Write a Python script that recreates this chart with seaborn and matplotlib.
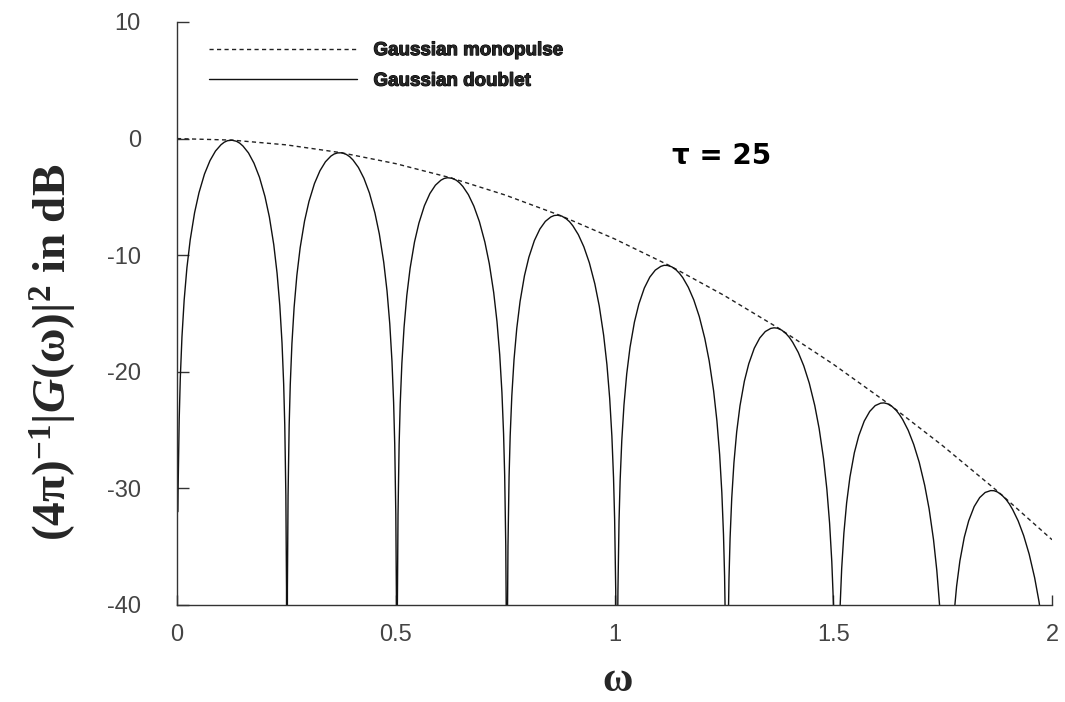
import matplotlib
matplotlib.use("Agg")
import matplotlib.pyplot as plt
import matplotlib.patheffects as pe
import seaborn as sns

# ---- data ----
# Gaussian monopulse (dashed envelope), dB
omega_mono = [0.0, 0.125, 0.25, 0.375, 0.5, 0.625, 0.75, 0.875, 1.0,
              1.125, 1.25, 1.375, 1.5, 1.625, 1.75, 1.875, 2.0]
db_mono = [0.0, -0.13, -0.54, -1.21, -2.15, -3.36, -4.84, -6.58, -8.6,
           -10.88, -13.44, -16.26, -19.35, -22.71, -26.34, -30.23, -34.4]

# Gaussian doublet: one list per lobe (arch), dB
omega_arch1 = [0.00201, 0.00251, 0.00503, 0.00754, 0.01131, 0.01634, 0.02262, 0.03016, 0.04021,
               0.05027, 0.06283, 0.07540, 0.08796, 0.10053, 0.10807, 0.11561, 0.12566, 0.13572,
               0.14326, 0.15080, 0.16336, 0.17593, 0.18850, 0.20106, 0.21111, 0.22117, 0.22871,
               0.23499, 0.24002, 0.24379, 0.24630, 0.24881, 0.25032]
db_arch1 = [-32.0, -30.06, -24.04, -20.53, -17.02, -13.86, -11.09, -8.69, -6.35,
            -4.64, -3.04, -1.89, -1.07, -0.53, -0.31, -0.18, -0.14, -0.23,
            -0.39, -0.64, -1.23, -2.11, -3.32, -4.97, -6.72, -9.10, -11.54,
            -14.33, -17.52, -21.04, -24.56, -30.59, -38.55]

omega_arch2 = [0.25234, 0.25384, 0.25636, 0.25887, 0.26264, 0.26767, 0.27395, 0.28149, 0.29154,
               0.30160, 0.31416, 0.32673, 0.33929, 0.35186, 0.35940, 0.36694, 0.37699, 0.38705,
               0.39459, 0.40213, 0.41469, 0.42726, 0.43983, 0.45239, 0.46244, 0.47250, 0.48004,
               0.48632, 0.49135, 0.49512, 0.49763, 0.50014, 0.50165]
db_arch2 = [-38.56, -30.61, -24.61, -21.11, -17.61, -14.48, -11.74, -9.36, -7.07,
            -5.40, -3.86, -2.76, -1.99, -1.50, -1.32, -1.23, -1.22, -1.36,
            -1.55, -1.83, -2.48, -3.41, -4.67, -6.38, -8.18, -10.60, -13.07,
            -15.89, -19.10, -22.64, -26.17, -32.21, -40.17]

omega_arch3 = [0.50366, 0.50516, 0.50768, 0.51019, 0.51396, 0.51899, 0.52527, 0.53281, 0.54286,
               0.55292, 0.56548, 0.57805, 0.59061, 0.60318, 0.61072, 0.61826, 0.62831, 0.63837,
               0.64591, 0.65345, 0.66601, 0.67858, 0.69115, 0.70371, 0.71376, 0.72382, 0.73136,
               0.73764, 0.74267, 0.74644, 0.74895, 0.75146, 0.75297]
db_arch3 = [-40.19, -32.25, -26.26, -22.77, -19.29, -16.18, -13.46, -11.12, -8.87,
            -7.25, -5.76, -4.71, -4.00, -3.57, -3.42, -3.36, -3.40, -3.57,
            -3.80, -4.11, -4.81, -5.80, -7.12, -8.88, -10.72, -13.19, -15.69,
            -18.54, -21.76, -25.32, -28.86, -34.92, -42.89]

omega_arch4 = [0.75499, 0.75649, 0.75901, 0.76152, 0.76529, 0.77032, 0.77660, 0.78414, 0.79419,
               0.80425, 0.81681, 0.82938, 0.84194, 0.85451, 0.86205, 0.86959, 0.87964, 0.88970,
               0.89724, 0.90478, 0.91734, 0.92991, 0.94248, 0.95504, 0.96509, 0.97515, 0.98269,
               0.98897, 0.99400, 0.99777, 1.00028, 1.00279, 1.00430]
db_arch4 = [-42.91, -34.98, -28.99, -25.52, -22.06, -18.96, -16.28, -13.97, -11.76,
            -10.18, -8.75, -7.76, -7.10, -6.72, -6.60, -6.57, -6.65, -6.88,
            -7.13, -7.48, -8.24, -9.28, -10.65, -12.46, -14.35, -16.86, -19.39,
            -22.27, -25.52, -29.09, -32.64, -38.71, -46.68]

omega_arch5 = [1.00632, 1.00782, 1.01034, 1.01285, 1.01662, 1.02165, 1.02793, 1.03547, 1.04552,
               1.05558, 1.06814, 1.08071, 1.09327, 1.10584, 1.11338, 1.12092, 1.13097, 1.14103,
               1.14857, 1.15611, 1.16867, 1.18124, 1.19381, 1.20637, 1.21642, 1.22648, 1.23402,
               1.24030, 1.24533, 1.24910, 1.25161, 1.25412, 1.25563]
db_arch5 = [-46.72, -38.80, -32.82, -29.35, -25.91, -22.84, -20.18, -17.90, -15.74,
            -14.20, -12.82, -11.88, -11.28, -10.96, -10.87, -10.88, -11.00, -11.27,
            -11.56, -11.93, -12.75, -13.84, -15.27, -17.14, -19.07, -21.62, -24.19,
            -27.09, -30.36, -33.95, -37.51, -43.59, -51.57]

omega_arch6 = [1.25765, 1.25915, 1.26167, 1.26418, 1.26795, 1.27298, 1.27926, 1.28680, 1.29685,
               1.30691, 1.31947, 1.33204, 1.34460, 1.35717, 1.36471, 1.37225, 1.38230, 1.39236,
               1.39990, 1.40744, 1.42000, 1.43257, 1.44514, 1.45770, 1.46775, 1.47781, 1.48535,
               1.49163, 1.49666, 1.50043, 1.50294, 1.50545, 1.50696]
db_arch6 = [-51.61, -43.69, -37.73, -34.27, -30.85, -27.80, -25.16, -22.92, -20.80,
            -19.31, -17.98, -17.10, -16.55, -16.28, -16.23, -16.26, -16.43, -16.74,
            -17.06, -17.48, -18.34, -19.49, -20.97, -22.89, -24.87, -27.46, -30.06,
            -32.99, -36.28, -39.89, -43.47, -49.55, -57.54]

omega_arch7 = [1.50897, 1.51047, 1.51299, 1.51550, 1.51927, 1.52430, 1.53058, 1.53812, 1.54817,
               1.55823, 1.57079, 1.58336, 1.59592, 1.60849, 1.61603, 1.62357, 1.63362, 1.64368,
               1.65122, 1.65876, 1.67132, 1.68389, 1.69646, 1.70902, 1.71907, 1.72913, 1.73667,
               1.74295, 1.74798, 1.75175, 1.75426, 1.75677, 1.75828]
db_arch7 = [-57.59, -49.68, -43.73, -40.28, -36.87, -33.84, -31.24, -29.03, -26.95,
            -25.50, -24.23, -23.40, -22.90, -22.69, -22.67, -22.74, -22.95, -23.30,
            -23.66, -24.10, -25.02, -26.23, -27.76, -29.74, -31.75, -34.39, -37.03,
            -39.99, -43.30, -46.92, -50.51, -56.60, -64.60]

omega_arch8 = [1.76030, 1.76180, 1.76432, 1.76683, 1.77060, 1.77563, 1.78191, 1.78945, 1.79950,
               1.80956, 1.82212, 1.83469, 1.84725, 1.85982, 1.86736, 1.87490, 1.88495, 1.89501,
               1.90255, 1.91009, 1.92265, 1.93522, 1.94779, 1.96035, 1.97040, 1.98046, 1.98800,
               1.99428, 1.99931, 2.00308]
db_arch8 = [-64.66, -56.75, -50.81, -47.38, -43.98, -40.97, -38.40, -36.22, -34.19,
            -32.78, -31.56, -30.79, -30.35, -30.19, -30.20, -30.30, -30.56, -30.95,
            -31.34, -31.82, -32.79, -34.05, -35.64, -37.67, -39.73, -42.41, -45.08,
            -48.06, -51.40, -55.04]

# nulls between the lobes (the curve drops below the -40 dB floor there)
null_omega = [0.25133, 0.50265, 0.75398, 1.00531, 1.25664, 1.50796, 1.75929]
null_db = -90.0

x_ticks = [0, 0.5, 1, 1.5, 2]
x_tick_labels = ["0", "0.5", "1", "1.5", "2"]
y_ticks = [-40, -30, -20, -10, 0, 10]
y_tick_labels = ["-40", "-30", "-20", "-10", "0", "10"]

series_labels = ["Gaussian monopulse", "Gaussian doublet"]
annotation = "\u03c4 = 25"
x_label = "\u03c9"
y_label = r"$\mathbf{(4\pi)^{-1}|}\mathbfit{G}\mathbf{(\omega)|^{2}\ in\ dB}$"

# assemble the doublet series from the lobe lists
arch_omegas = [omega_arch1, omega_arch2, omega_arch3, omega_arch4,
               omega_arch5, omega_arch6, omega_arch7, omega_arch8]
arch_dbs = [db_arch1, db_arch2, db_arch3, db_arch4,
            db_arch5, db_arch6, db_arch7, db_arch8]
omega_doublet, db_doublet = [], []
for i, (w, d) in enumerate(zip(arch_omegas, arch_dbs)):
    omega_doublet += w
    db_doublet += d
    if i < len(null_omega):
        omega_doublet.append(null_omega[i])
        db_doublet.append(null_db)

# ---- style ----
sns.set_theme(style="ticks")
plt.rcParams["font.family"] = ["Liberation Sans", "DejaVu Sans"]
plt.rcParams["mathtext.fontset"] = "custom"
plt.rcParams["mathtext.rm"] = "Liberation Serif"
plt.rcParams["mathtext.bf"] = "Liberation Serif:bold"
plt.rcParams["mathtext.it"] = "Liberation Serif:italic"
plt.rcParams["mathtext.bfit"] = "Liberation Serif:bold:italic"

fig = plt.figure(figsize=(10.65, 7.02), dpi=100)
fig.patch.set_facecolor("white")
ax = fig.add_axes([0.1662, 0.1382, 0.8216, 0.8305])
ax.set_facecolor("white")

sns.lineplot(x=omega_mono, y=db_mono, ax=ax, color="#222222", lw=1.0,
             estimator=None, sort=False, label=series_labels[0])
ax.lines[-1].set_dashes([3.0, 2.4])
sns.lineplot(x=omega_doublet, y=db_doublet, ax=ax, color="#111111", lw=1.0,
             estimator=None, sort=False, label=series_labels[1])

ax.set_xlim(0, 2)
ax.set_ylim(-40, 10)
ax.set_xticks(x_ticks)
ax.set_xticklabels(x_tick_labels)
ax.set_yticks(y_ticks)
ax.set_yticklabels(y_tick_labels)

for s in ["top", "right"]:
    ax.spines[s].set_visible(False)
for s in ["left", "bottom"]:
    ax.spines[s].set_color("#333333")
    ax.spines[s].set_linewidth(1.0)

ax.tick_params(axis="y", direction="in", length=8.5, width=1.0, color="#333333",
               pad=26, labelsize=17, labelcolor="#444444")
ax.tick_params(axis="x", direction="in", length=7, width=1.0, color="#333333",
               pad=14, labelsize=17, labelcolor="#444444")

ax.set_xlabel(x_label, fontsize=30, fontweight="bold", family="Liberation Serif")
ax.xaxis.label.set_va("baseline")
ax.xaxis.set_label_coords(0.503, -0.1475)
ax.set_ylabel(y_label, fontsize=34)
ax.yaxis.set_label_coords(-0.112, 0.434)

ax.text(1.245, -1.5, annotation, fontsize=20, fontweight="bold",
        family="DejaVu Sans", ha="center", va="center", color="black")

leg = ax.legend(loc="upper left", bbox_to_anchor=(0.036, 0.9657), frameon=False,
                handlelength=7.9, handletextpad=0.9, labelspacing=0.72,
                borderpad=0, borderaxespad=0,
                prop={"family": "Liberation Sans", "weight": "bold", "size": 13.5})
for t in leg.get_texts():
    t.set_path_effects([pe.withStroke(linewidth=0.8, foreground="black")])

fig.savefig("out.png", dpi=100, facecolor="white")
